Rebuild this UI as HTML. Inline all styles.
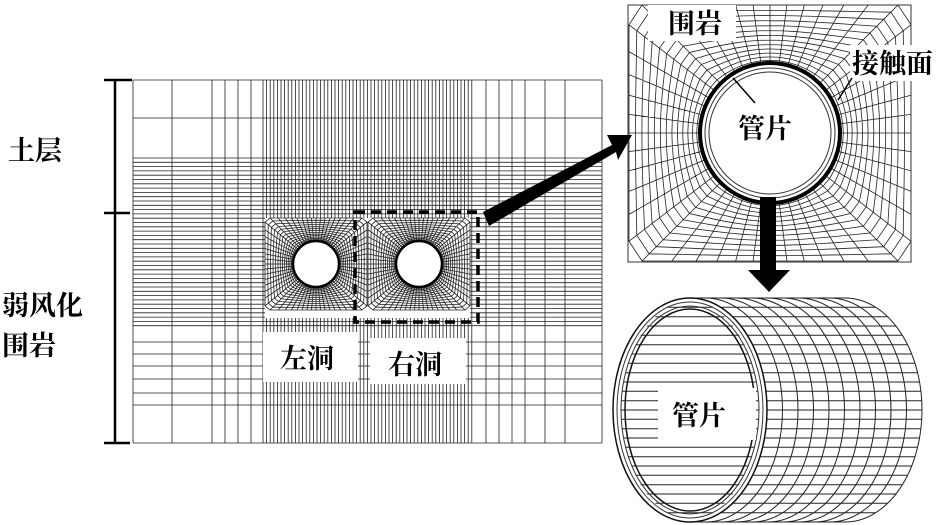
<!DOCTYPE html>
<html><head><meta charset="utf-8"><style>
body{margin:0;background:#fff;width:952px;height:525px;overflow:hidden}
svg{position:absolute;left:0;top:0}
.t{font-family:"Liberation Serif","Noto Serif CJK SC","Noto Sans CJK SC",serif;font-size:27px;fill:#000;font-weight:bold}
</style></head><body>
<svg id="s" width="952" height="525" xmlns="http://www.w3.org/2000/svg">
<g id="mesh" stroke="#222" stroke-width="0.8" fill="none"></g>
<g id="top">
<g stroke="#000" stroke-width="2.5">
<line x1="115" y1="80" x2="115" y2="443"/>
<line x1="104" y1="80" x2="132" y2="80"/>
<line x1="104" y1="213" x2="130" y2="213"/>
<line x1="104" y1="443" x2="130" y2="443"/>
</g>
<text class="t" x="8" y="160">土层</text>
<text class="t" x="2" y="315">弱风化</text>
<text class="t" x="2" y="355">围岩</text>
<rect x="263" y="332" width="95" height="50" fill="#fff"/>
<rect x="370" y="338" width="96" height="46" fill="#fff"/>
<text class="t" x="280" y="368">左洞</text>
<text class="t" x="388" y="374">右洞</text>
<rect x="355" y="212" width="123" height="110" fill="none" stroke="#000" stroke-width="3.5" stroke-dasharray="10,6"/>
<polygon points="483,212 612,145 607,135 632,135 618,160 616,152 489,226" fill="#000"/>
<rect x="648" y="5" width="88" height="36" fill="#fff"/>
<text class="t" x="668" y="33">围岩</text>
<rect x="850" y="45" width="102" height="36" fill="#fff"/>
<text class="t" x="852" y="73">接触面</text>
<text class="t" x="738" y="138">管片</text>
<line x1="733" y1="78" x2="755" y2="103" stroke="#000" stroke-width="1.5"/>
<line x1="852" y1="78" x2="838" y2="100" stroke="#000" stroke-width="1.5"/>
<rect x="760" y="197" width="16" height="73" fill="#000"/>
<polygon points="748,270 790,270 769,292" fill="#000"/>
<rect x="658" y="388" width="98" height="52" fill="#fff"/>
<text class="t" x="672" y="425">管片</text>
</g>
</svg>
<script>
var g=document.getElementById('mesh'),P=[];
function L(a,b,c,d){P.push('M'+a.toFixed(1)+' '+b.toFixed(1)+'L'+c.toFixed(1)+' '+d.toFixed(1));}
var X0=133,X1=602,Y0=80,Y1=443;
var hs=[80,118,158];for(var y=158;y<=330;y+=4.3)hs.push(y);hs=hs.concat([342,354,366,379,393,405,443]);
var vs=[133,172,212,225,238,251,263];for(var x=263;x<=473;x+=3.6)vs.push(x);vs=vs.concat([486,499,512,525,545,565,602]);
hs.forEach(function(y){if(y>217&&y<319){L(X0,y,265,y);L(470,y,X1,y);}else L(X0,y,X1,y);});
vs.forEach(function(x){if(x>265&&x<470){L(x,Y0,x,218);L(x,318,x,Y1);}else L(x,Y0,x,Y1);});
function rad(cx,cy,w,h,r,na,nr,sq){
 var pts=[];
 for(var i=0;i<na;i++){var t=i/na*2*Math.PI,c=Math.cos(t),s=Math.sin(t);
  var k=Math.min(w/Math.abs(c||1e-9),h/Math.abs(s||1e-9));
  pts.push([cx+r*c,cy+r*s,cx+k*c,cy+k*s]);}
 pts.forEach(function(p){L(p[0],p[1],p[2],p[3]);});
 for(var j=0;j<=nr;j++){var f=Math.pow(j/nr,sq),d='';
  pts.forEach(function(p,i){var x=p[0]+(p[2]-p[0])*f,y=p[1]+(p[3]-p[1])*f;d+=(i?'L':'M')+x.toFixed(1)+' '+y.toFixed(1);});
  P.push(d+'Z');}
}
rad(316,264,51,46,23,64,14,1.4);
rad(419,264,51,46,23,64,14,1.4);
rad(770,133,141,128,70,48,13,1.2);
var p=document.createElementNS('http://www.w3.org/2000/svg','path');p.setAttribute('d',P.join(''));g.appendChild(p);
var ns='http://www.w3.org/2000/svg';
function el(n,a){var e=document.createElementNS(ns,n);for(var k in a)e.setAttribute(k,a[k]);g.appendChild(e);return e;}
el('circle',{cx:316,cy:264,r:23,fill:'#fff',stroke:'#000','stroke-width':2.5});
el('circle',{cx:419,cy:264,r:23,fill:'#fff',stroke:'#000','stroke-width':2.5});
el('circle',{cx:770,cy:133,r:70,fill:'#fff',stroke:'#000','stroke-width':4});
el('circle',{cx:770,cy:133,r:65,fill:'none',stroke:'#333','stroke-width':1});
el('circle',{cx:770,cy:133,r:61,fill:'none',stroke:'#333','stroke-width':1});
el('rect',{x:628,y:5,width:283,height:257,fill:'none',stroke:'#333','stroke-width':1});
var cx=690,cx2=845,cy=410,rx=77,ry=112,Q=[];
for(var i=1;i<24;i++){var y=cy-ry+2*ry*i/24;var dy=(y-cy)/ry,dx=rx*Math.sqrt(1-dy*dy);Q.push('M'+(cx-dx+8).toFixed(1)+' '+y.toFixed(1)+'L'+(cx+dx-8).toFixed(1)+' '+y.toFixed(1));Q.push('M'+(cx+dx).toFixed(1)+' '+y.toFixed(1)+'L'+(cx2+dx).toFixed(1)+' '+y.toFixed(1));}
for(var k=0;k<=10;k++){var x=cx+(cx2-cx)*k/10;Q.push('M'+x+' '+(cy-ry)+'A'+rx+' '+ry+' 0 0 1 '+x+' '+(cy+ry));}
Q.push('M'+cx+' '+(cy-ry)+'L'+cx2+' '+(cy-ry)+'M'+cx+' '+(cy+ry)+'L'+cx2+' '+(cy+ry));
el('path',{d:Q.join(''),stroke:'#222','stroke-width':1,fill:'none'});
el('ellipse',{cx:cx,cy:cy,rx:rx,ry:ry,fill:'none',stroke:'#111','stroke-width':1.5});
el('ellipse',{cx:cx,cy:cy,rx:rx-4,ry:ry-4,fill:'none',stroke:'#333','stroke-width':1});
el('ellipse',{cx:cx,cy:cy,rx:rx-8,ry:ry-8,fill:'none',stroke:'#333','stroke-width':1});
el('ellipse',{cx:cx,cy:cy,rx:rx-12,ry:ry-11,fill:'none',stroke:'#111','stroke-width':1.5});
</script>
<script>
var s=document.getElementById('s'),t=document.getElementById('top');s.appendChild(t);
</script>
</body></html>
